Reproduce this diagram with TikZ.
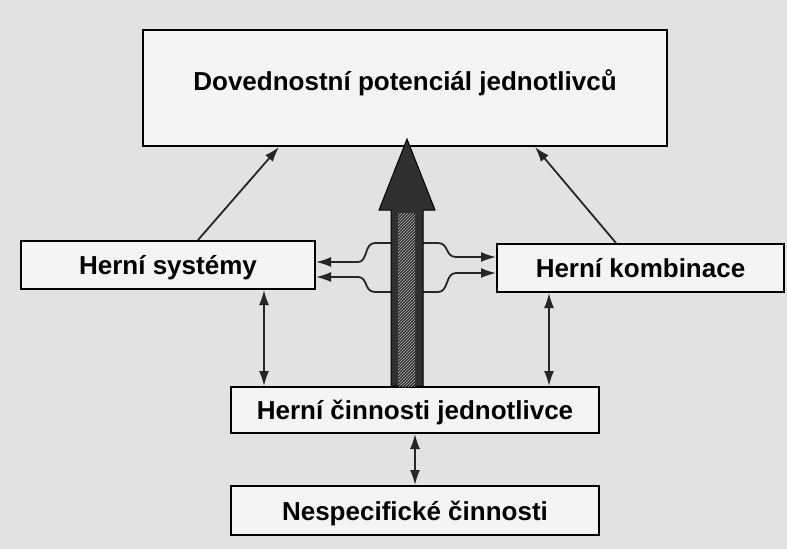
\documentclass[tikz,border=0pt]{standalone}
\usepackage{fontspec}
\setmainfont{Liberation Sans}
\usetikzlibrary{arrows.meta,patterns}
\definecolor{paper}{RGB}{226,226,226}
\definecolor{boxfill}{RGB}{244,244,244}
\definecolor{arrowdark}{RGB}{48,48,48}
\tikzset{
  box/.style={draw=black, line width=2pt, fill=boxfill, inner sep=0pt,
    font=\fontsize{26}{28}\selectfont\bfseries, text height=19pt, text depth=0pt},
  conn/.style={line width=1.8pt, draw=black!85},
  tip/.style={-{Latex[length=15pt,width=10pt]}},
  tips/.style={{Latex[length=15pt,width=10pt]}-{Latex[length=15pt,width=10pt]}}
}
\begin{document}
\begin{tikzpicture}[x=1pt,y=-1pt]
\fill[paper] (0,0) rectangle (787,549);
\useasboundingbox (0,0) rectangle (787,549);

% boxes
\node[box, minimum width=524pt, minimum height=116pt, text depth=15pt] (top) at (405,88) {Dovednostní potenciál jednotlivců};
\node[box, minimum width=294pt, minimum height=48pt] (sys) at (168,265) {Herní systémy};
\node[box, minimum width=287pt, minimum height=48pt] (komb) at (640.5,268) {Herní kombinace};
\node[box, minimum width=368pt, minimum height=46pt] (cin) at (415,410) {Herní činnosti jednotlivce};
\node[box, minimum width=368pt, minimum height=49pt] (nesp) at (415,510.5) {Nespecifické činnosti};

% pipe connectors between systems and combinations
\draw[conn, tips] (sys.east |- 0,262) -- (358,262) .. controls (368,262) and (364,243) .. (375,243)
  -- (438,243) .. controls (449,243) and (445,257) .. (456,257) -- (komb.west |- 0,257);
\draw[conn, tips] (sys.east |- 0,277) -- (358,277) .. controls (368,277) and (364,292) .. (375,292)
  -- (438,292) .. controls (449,292) and (445,273) .. (456,273) -- (komb.west |- 0,273);

% big arrow
\filldraw[fill=arrowdark, draw=black, line width=1pt]
  (cin.north -| 391,0) -- (391,210) -- (379,210) -- (407,139) -- (435,210) -- (423,210) -- (cin.north -| 423,0) -- cycle;
\fill[pattern=north east lines, pattern color=gray!55] (398,213) rectangle (cin.north -| 415,0);

% arrows to top box
\draw[conn, tip] ([xshift=30pt]sys.north) -- ([xshift=-126pt]top.south);
\draw[conn, tip] ([xshift=-24.5pt]komb.north) -- ([xshift=130pt]top.south);

% vertical double arrows
\draw[conn, tips] (sys.south -| 264,0) -- (cin.north -| 264,0);
\draw[conn, tips] (komb.south -| 549,0) -- (cin.north -| 549,0);
\draw[conn, tips] (cin.south) -- (nesp.north);
\end{tikzpicture}
\end{document}
